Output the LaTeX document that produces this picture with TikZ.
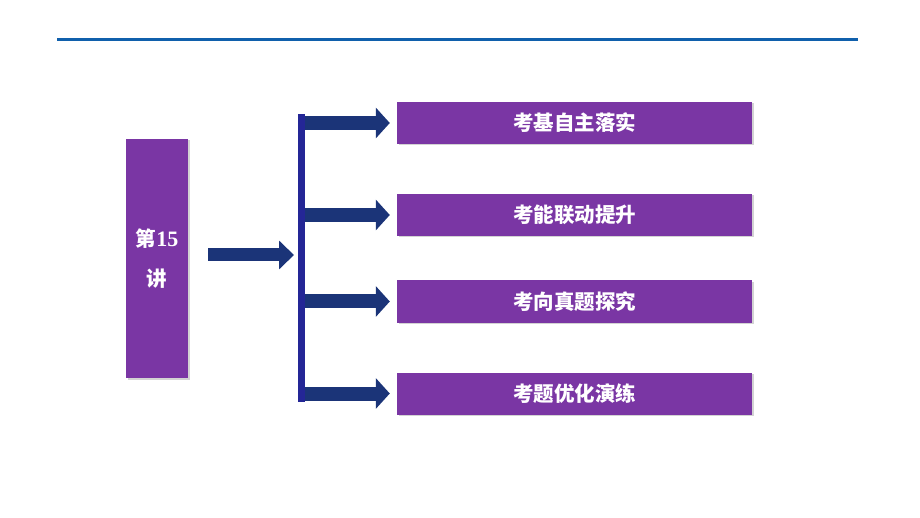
\documentclass[tikz,border=0pt]{standalone}
\usepackage{fontspec}
\setmainfont{Liberation Serif}
\newfontfamily\cjk{Noto Sans CJK SC}
\usetikzlibrary{arrows.meta,shadows}
\definecolor{lecpurple}{RGB}{122,54,164}
\definecolor{arrownavy}{RGB}{27,52,120}
\definecolor{barblue}{RGB}{36,38,150}
\definecolor{ruleblue}{RGB}{16,96,172}

\begin{document}
\begin{tikzpicture}[x=1pt,y=-1pt]
\useasboundingbox (0,0) rectangle (920,518);
\tikzset{LessonBox/.style ={rectangle, fill=lecpurple, text=white, inner sep=0,
    font=\cjk\bfseries\fontsize{20.5}{40}\selectfont,
    drop shadow={opacity=0.35, shadow xshift=1.5pt, shadow yshift=-1.5pt}}}
\tikzset{BigArrow/.style ={draw=arrownavy, line width=14pt,
    -{Triangle[length=14pt, width=30pt]}}}
% rule at the top
\draw[ruleblue, line width=3pt] (57,40) -- (858,40);
\node[LessonBox, minimum width=62pt, minimum height=239pt, align=center]
    (lesson) at (157,258.5) {第{\rmfamily\bfseries\fontsize{22}{40}\selectfont 15}\\讲};
\node[rectangle, fill=barblue, inner sep=0, minimum width=7pt, minimum height=288pt]
    (bar) at (301.5,258) {};
\node[LessonBox, minimum width=355pt, minimum height=42pt] (basic) at (574.5,123) {考基自主落实};
\node[LessonBox, minimum width=355pt, minimum height=42pt] (link) at (574.5,215) {考能联动提升};
\node[LessonBox, minimum width=355pt, minimum height=42pt] (exam) at (574.5,301.5) {考向真题探究};
\node[LessonBox, minimum width=355pt, minimum height=42pt] (drill) at (574.5,393.5) {考题优化演练};
\draw[BigArrow, line width=13pt, -{Triangle[length=15pt, width=28pt]}]
    (lesson.east |- 0,255) ++(20,0) -- (294,255);
\draw[BigArrow] (bar.east |- basic) -- ([xshift=-7pt]basic.west);
\draw[BigArrow] (bar.east |- link) -- ([xshift=-7pt]link.west);
\draw[BigArrow] (bar.east |- exam) -- ([xshift=-7pt]exam.west);
\draw[BigArrow] (bar.east |- drill) -- ([xshift=-7pt]drill.west);
\end{tikzpicture}
\end{document}
